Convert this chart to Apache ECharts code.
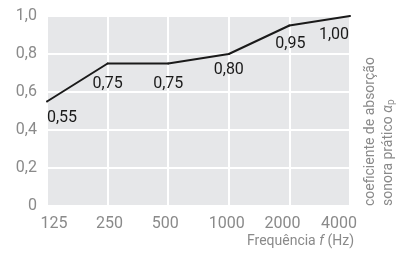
<!DOCTYPE html>
<html lang="pt">
<head>
<meta charset="UTF-8">
<title>coeficiente de absorção</title>
<script src="https://cdn.jsdelivr.net/npm/echarts@6/dist/echarts.min.js"></script>
<style>
  html, body { margin: 0; padding: 0; background: #fff; }
  #dv { width: 400px; height: 253px; }
</style>
</head>
<body>
<div id="dv"></div>
<script>
var frequencies = ['125', '250', '500', '1000', '2000', '4000']
var absorption = [0.55, 0.75, 0.75, 0.80, 0.95, 1.00]
// label nudges (px) so the numbers sit under the line like the original
var labelOffsets = [[15, 16], [0, 20], [0, 20], [0, 16], [1, 18], [-16, 19]]
// the original tick labels drift a bit off their grid lines
var tickShift = [7, 2, -3, -2, -7, -11]

var font = 'Roboto, sans-serif'
var grey = '#8a8a8a'

var tickRich = {}
tickShift.forEach(function (d, i) {
    tickRich['t' + i] = {
        color: grey, fontFamily: font, fontSize: 16,
        padding: d > 0 ? [0, 0, 0, 2 * d] : [0, -2 * d, 0, 0]
    }
})

var myChart = echarts.init(document.getElementById('dv'))

var option = {
    animation: false,
    grid: {
        left: 47,
        right: 50,
        top: 16,
        bottom: 47,
        show: true,
        backgroundColor: '#e6e7e9',
        borderWidth: 0
    },
    xAxis: {
        type: 'category',
        boundaryGap: false,
        data: frequencies,
        axisLine: { show: false },
        axisTick: { show: false },
        axisLabel: {
            interval: 0,
            hideOverlap: false,
            margin: 10,
            formatter: function (v, i) { return '{t' + i + '|' + v + '}' },
            rich: tickRich
        },
        splitLine: { show: true, interval: 0, lineStyle: { color: '#fff', width: 2 } },
        name: '{n|Frequência }{i|f}{n| (Hz)}',
        nameLocation: 'end',
        nameGap: 4,
        nameTextStyle: {
            align: 'right',
            verticalAlign: 'top',
            padding: [28, 0, 0, 0],
            rich: {
                n: { color: grey, fontFamily: font, fontSize: 14 },
                i: { color: grey, fontFamily: font, fontSize: 14, fontStyle: 'italic' }
            }
        }
    },
    yAxis: {
        type: 'value',
        min: 0,
        max: 1,
        interval: 0.2,
        axisLine: { show: false },
        axisTick: { show: false },
        axisLabel: {
            color: grey,
            fontFamily: font,
            fontSize: 16,
            margin: 10,
            formatter: function (v) {
                return v === 0 ? '0' : v.toFixed(1).replace('.', ',')
            }
        },
        splitLine: { lineStyle: { color: '#fff', width: 2 } }
    },
    series: [{
        type: 'line',
        data: absorption.map(function (v, i) {
            return { value: v, label: { offset: labelOffsets[i] } }
        }),
        symbol: 'circle',
        symbolSize: 2,
        itemStyle: { color: '#1a1a1a' },
        lineStyle: { color: '#1a1a1a', width: 2 },
        label: {
            show: true,
            position: 'inside',
            color: '#1a1a1a',
            fontFamily: font,
            fontSize: 16,
            formatter: function (p) { return p.value.toFixed(2).replace('.', ',') }
        }
    }],
    graphic: [{
        type: 'text',
        x: 370,
        y: 206,
        rotation: Math.PI / 2,
        style: {
            text: 'coeficiente de absorção',
            fill: grey,
            font: '14px ' + font,
            textAlign: 'left',
            textVerticalAlign: 'middle'
        }
    }, {
        type: 'text',
        x: 388,
        y: 206,
        rotation: Math.PI / 2,
        style: {
            text: '{n|sonora prático }{a|α}{s|p}',
            fill: grey,
            textAlign: 'left',
            textVerticalAlign: 'middle',
            rich: {
                n: { fill: grey, font: '14px ' + font },
                a: { fill: grey, font: 'italic 14px ' + font },
                s: { fill: grey, font: '10px ' + font, padding: [6, 0, 0, 0] }
            }
        }
    }]
}
myChart.setOption(option)
</script>
</body>
</html>
